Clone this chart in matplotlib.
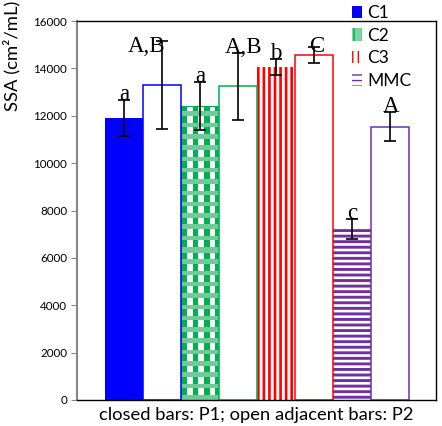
"""SSA bars for P1 (closed) and P2 (open) per group
"""
import numpy as np
import matplotlib
matplotlib.use("Agg")
import matplotlib.pyplot as plt
from matplotlib.patches import Patch

plt.rcParams['font.family'] = ['Lato', 'DejaVu Sans']

# values
groups = ['C1', 'C2', 'C3', 'MMC']
p1 = [11900, 12420, 14060, 7230]
p1_err = [750, 1020, 340, 430]
p2 = [13310, 13240, 14570, 11540]
p2_err = [1860, 1420, 350, 610]
letters_p1 = ['a', 'a', 'b', 'c']
letters_p2 = ['A,B', 'A,B', 'C', 'A']

colors = ['#0000FF', '#00B050', '#FF0000', '#7030A0']

fig = plt.figure(figsize=(4.42, 4.26), dpi=100)
ax = fig.add_axes([77 / 442, 1 - 400 / 426, 359 / 442, 379 / 426])
ax.set_xlim(-1.24, 8.21)
ax.set_ylim(0, 16000)

x1 = np.arange(len(groups)) * 2
x2 = x1 + 1


def hatch_bar(x, h, hatch, color, lw):
    b = ax.bar(x, h, width=1, facecolor='white', edgecolor=color,
               linewidth=0, hatch=hatch)
    for p in b.patches:
        if hasattr(p, 'set_hatch_linewidth'):
            p.set_hatch_linewidth(lw)
    return b


def gingham_bar(x, h):
    # checked green texture, clipped to the bar
    b = ax.bar(x, h, width=1, facecolor='white', linewidth=0)
    px_x = ax.bbox.width / (ax.get_xlim()[1] - ax.get_xlim()[0])
    px_y = ax.bbox.height / (ax.get_ylim()[1] - ax.get_ylim()[0])
    nx = int(round(px_x))
    ny = int(round(h * px_y))
    period = 11.3
    u = (np.arange(nx) % period) < 5.5
    v = (np.arange(ny) % period) < 4.5
    img = np.ones((ny, nx, 3))
    dark = np.array([0, 176, 80]) / 255
    light = np.array([110, 205, 150]) / 255
    img[:, u] = dark
    img[v, :] = light
    im = ax.imshow(img, extent=(x - 0.5, x + 0.5, 0, h), origin='lower',
                   interpolation='nearest', aspect='auto', zorder=1.5)
    im.set_clip_path(b.patches[0])
    ax.bar(x, h, width=1, facecolor='none', edgecolor=colors[1],
           linewidth=0.8, zorder=1.6)


# closed bars (P1)
ax.bar(x1[0], p1[0], width=1, color=colors[0], linewidth=0)
gingham_bar(x1[1], p1[1])
hatch_bar(x1[2], p1[2], '|||', colors[2], 1.9)
hatch_bar(x1[3], p1[3], '---', colors[3], 2.1)

# open bars (P2)
ax.bar(x2, p2, width=1, facecolor='white', edgecolor=colors, linewidth=1.1,
       zorder=1.7)

# error bars
ax.errorbar(x1, p1, yerr=p1_err, fmt='none', ecolor='black',
            elinewidth=1.2, capsize=4, capthick=1.2, zorder=5)
ax.errorbar(x2, p2, yerr=p2_err, fmt='none', ecolor='black',
            elinewidth=1.2, capsize=4, capthick=1.2, zorder=5)

# significance letters
top1 = np.minimum(np.array(p1) + np.array(p1_err), 14700)
top2 = np.minimum(np.array(p2) + np.array(p2_err), 14700)
shift2 = [-11, 4, 2, 1]
for i in range(len(groups)):
    ax.annotate(letters_p1[i], (x1[i], top1[i]), xytext=(0, 0),
                textcoords='offset points', ha='center', va='baseline',
                family='Liberation Serif', fontsize=16.5, zorder=6)
    ax.annotate(letters_p2[i], (x2[i], top2[i]), xytext=(shift2[i], 0),
                textcoords='offset points', ha='center', va='baseline',
                family='Liberation Serif', fontsize=16.5, zorder=6)

ax.set_xlim(-1.24, 8.21)
ax.set_ylim(0, 16000)
ax.set_yticks(range(0, 16001, 2000))
ax.set_xticks([])
ax.tick_params(axis='y', direction='out', length=4, color='#868686',
               labelsize=8.4, pad=3)
ax.spines['left'].set_color('#868686')
ax.spines['left'].set_linewidth(1.5)
for s in ['top', 'right', 'bottom']:
    ax.spines[s].set_color('black')
    ax.spines[s].set_linewidth(1.0)

ax.set_xlabel('closed bars: P1; open adjacent bars: P2', fontsize=13.2,
              labelpad=5)
fig.text(12 / 442, 1 - 56 / 426, 'SSA (cm²/mL)', rotation=90,
         ha='center', va='center', fontsize=13.3)

# legend
handles = [
    Patch(facecolor=colors[0], linewidth=0),
    Patch(facecolor='#7fd3a0', edgecolor=colors[1], hatch='||', linewidth=0),
    Patch(facecolor='white', edgecolor=colors[2], hatch='|||', linewidth=0),
    Patch(facecolor='white', edgecolor=colors[3], hatch='---', linewidth=0),
]
fig.legend(handles, groups, loc='upper left',
           bbox_to_anchor=(352 / 442, 1 - 5 / 426), frameon=False,
           fontsize=12.5, handlelength=0.6, handleheight=0.75,
           handletextpad=0.3, labelspacing=0.38, borderpad=0,
           borderaxespad=0)

fig.savefig('out.png', dpi=100)
